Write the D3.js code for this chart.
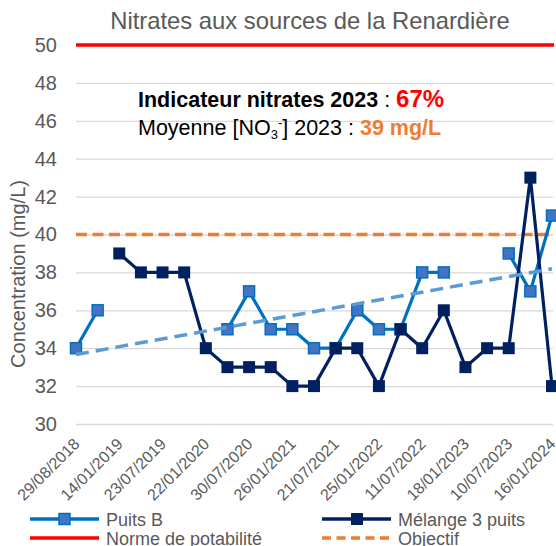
<!DOCTYPE html>
<html>
<head>
<meta charset="utf-8">
<script src="https://cdn.jsdelivr.net/npm/d3@7"></script>
<style>
  body { margin: 0; background: #fff; }
  text { font-family: "Liberation Sans", Arial, sans-serif; }
</style>
</head>
<body>
<div id="chart-area"></div>
<script>
// Data
const tickDates = ["29/08/2018", "14/01/2019", "23/07/2019", "22/01/2020", "30/07/2020", "26/01/2021",
    "21/07/2021", "25/01/2022", "11/07/2022", "18/01/2023", "10/07/2023", "16/01/2024"];
const categories = d3.range(23); // sampling dates, one label every 2
const puitsB = [34, 36, null, null, null, null, null, 35, 37, 35, 35, 34, 34, 36, 35, 35, 38, 38, null, null, 39, 37, 41];
const melange = [null, null, 39, 38, 38, 38, 34, 33, 33, 33, 32, 32, 34, 34, 32, 35, 34, 36, 33, 34, 34, 43, 32];
const normeValue = 50;
const objectifValue = 40;
const yTicks = [30, 32, 34, 36, 38, 40, 42, 44, 46, 48, 50];

const WIDTH = 556, HEIGHT = 546;
const PLOT = { LEFT: 76, RIGHT: 553, TOP: 45, BOTTOM: 424 };
const GREY = "#595959";

const svg = d3.select("#chart-area").append("svg")
    .attr("width", WIDTH)
    .attr("height", HEIGHT);

const x = d3.scalePoint()
    .domain(categories)
    .range([PLOT.LEFT, 552]);

const y = d3.scaleLinear()
    .domain([30, 50])
    .range([PLOT.BOTTOM, PLOT.TOP]);

// Title
svg.append("text")
    .attr("x", 310)
    .attr("y", 29)
    .attr("text-anchor", "middle")
    .attr("font-size", "23.8px")
    .attr("fill", GREY)
    .text("Nitrates aux sources de la Renardière");

// Y axis with gridlines
const yAxis = svg.append("g")
    .attr("transform", `translate(${PLOT.LEFT}, 0)`)
    .call(d3.axisLeft(y).tickValues(yTicks).tickSize(-(PLOT.RIGHT - PLOT.LEFT)).tickPadding(19));
yAxis.select(".domain").remove();
yAxis.selectAll("line").attr("stroke", "#d9d9d9").attr("stroke-width", 1.3);
yAxis.selectAll("text")
    .attr("font-size", "20px")
    .attr("fill", GREY);

// Y label
svg.append("text")
    .attr("transform", "translate(25, 274) rotate(-90)")
    .attr("text-anchor", "middle")
    .attr("font-size", "20px")
    .attr("fill", GREY)
    .text("Concentration (mg/L)");

// X labels
const xAxis = svg.append("g")
    .attr("transform", `translate(0, ${PLOT.BOTTOM})`)
    .call(d3.axisBottom(x)
        .tickValues(categories.filter(d => d % 2 === 0))
        .tickSize(0)
        .tickFormat(d => tickDates[d / 2]));
xAxis.select(".domain").remove();
xAxis.selectAll("text")
    .attr("font-size", "16px")
    .attr("fill", GREY)
    .attr("text-anchor", "end")
    .attr("dy", 0)
    .attr("y", 0)
    .attr("transform", "translate(4, 21) rotate(-45)");

// Reference lines
svg.append("line")
    .attr("x1", PLOT.LEFT).attr("x2", 554)
    .attr("y1", y(normeValue)).attr("y2", y(normeValue))
    .attr("stroke", "#ff0000")
    .attr("stroke-width", 3.5);

svg.append("line")
    .attr("x1", PLOT.LEFT).attr("x2", 554)
    .attr("y1", y(objectifValue)).attr("y2", y(objectifValue))
    .attr("stroke", "#ed7d31")
    .attr("stroke-width", 3.5)
    .attr("stroke-dasharray", "11 5.5");

// Series
const line = d3.line()
    .defined(d => d.v !== null)
    .x(d => x(d.i))
    .y(d => y(d.v));

const bData = puitsB.map((v, i) => ({ i, v }));
const mData = melange.map((v, i) => ({ i, v }));

svg.append("path")
    .datum(bData)
    .attr("d", line)
    .attr("fill", "none")
    .attr("stroke", "#0070c0")
    .attr("stroke-width", 3.2)
    .attr("stroke-linejoin", "round");

svg.selectAll(".markB")
    .data(bData.filter(d => d.v !== null))
    .enter().append("rect")
    .attr("class", "markB")
    .attr("x", d => x(d.i) - 5.5)
    .attr("y", d => y(d.v) - 5.5)
    .attr("width", 11)
    .attr("height", 11)
    .attr("fill", "#4472c4")
    .attr("stroke", "#0070c0")
    .attr("stroke-width", 1.5);

svg.append("path")
    .datum(mData)
    .attr("d", line)
    .attr("fill", "none")
    .attr("stroke", "#002060")
    .attr("stroke-width", 3.2)
    .attr("stroke-linejoin", "round");

svg.selectAll(".markM")
    .data(mData.filter(d => d.v !== null))
    .enter().append("rect")
    .attr("class", "markM")
    .attr("x", d => x(d.i) - 6)
    .attr("y", d => y(d.v) - 6)
    .attr("width", 12)
    .attr("height", 12)
    .attr("fill", "#002060");

// Linear trend of Puits B (least squares over category index)
const pts = bData.filter(d => d.v !== null);
const mx = d3.mean(pts, d => d.i), my = d3.mean(pts, d => d.v);
const slope = d3.sum(pts, d => (d.i - mx) * (d.v - my)) / d3.sum(pts, d => (d.i - mx) ** 2);
const trend = [0, categories.length - 1].map(i => ({ i, v: my + slope * (i - mx) }));

svg.append("path")
    .datum(trend)
    .attr("d", line)
    .attr("fill", "none")
    .attr("stroke", "#5b9bd5")
    .attr("stroke-width", 3.5)
    .attr("stroke-dasharray", "13 7");

// Annotation
const t1 = svg.append("text")
    .attr("x", 138)
    .attr("y", 107)
    .attr("font-size", "21.5px")
    .attr("fill", "#000");
t1.append("tspan").attr("font-weight", "bold").text("Indicateur nitrates 2023");
t1.append("tspan").text(" : ");
t1.append("tspan").attr("font-weight", "bold").attr("fill", "#ff0000").attr("font-size", "24px").text("67%");

const t2 = svg.append("text")
    .attr("x", 138)
    .attr("y", 135)
    .attr("font-size", "21.5px")
    .attr("fill", "#000");
t2.append("tspan").text("Moyenne [NO");
t2.append("tspan").attr("font-size", "13px").attr("dy", 4).text("3");
t2.append("tspan").attr("font-size", "13px").attr("dy", -12).text("-");
t2.append("tspan").attr("dy", 8).text("] 2023 : ");
t2.append("tspan").attr("font-weight", "bold").attr("fill", "#ed7d31").text("39 mg/L");

// Legend
const legendItems = [
    { label: "Puits B", x: 30, y: 519, color: "#0070c0", marker: "B" },
    { label: "Mélange 3 puits", x: 322, y: 519, color: "#002060", marker: "M" },
    { label: "Norme de potabilité", x: 30, y: 538, color: "#ff0000" },
    { label: "Objectif", x: 322, y: 538, color: "#ed7d31", dash: "9 5.5" }
];

legendItems.forEach(item => {
    const lg = svg.append("g").attr("transform", `translate(${item.x}, ${item.y})`);
    lg.append("line")
        .attr("x1", 0).attr("x2", 69)
        .attr("stroke", item.color)
        .attr("stroke-width", 3.5)
        .attr("stroke-dasharray", item.dash || null);
    if (item.marker === "B") {
        lg.append("rect").attr("x", 29).attr("y", -5.5).attr("width", 11).attr("height", 11)
            .attr("fill", "#4472c4").attr("stroke", "#0070c0").attr("stroke-width", 1.5);
    } else if (item.marker === "M") {
        lg.append("rect").attr("x", 29).attr("y", -6).attr("width", 12).attr("height", 12)
            .attr("fill", "#002060");
    }
    lg.append("text")
        .attr("x", 76)
        .attr("y", 6.5)
        .attr("font-size", "18px")
        .attr("fill", GREY)
        .text(item.label);
});
</script>
</body>
</html>
